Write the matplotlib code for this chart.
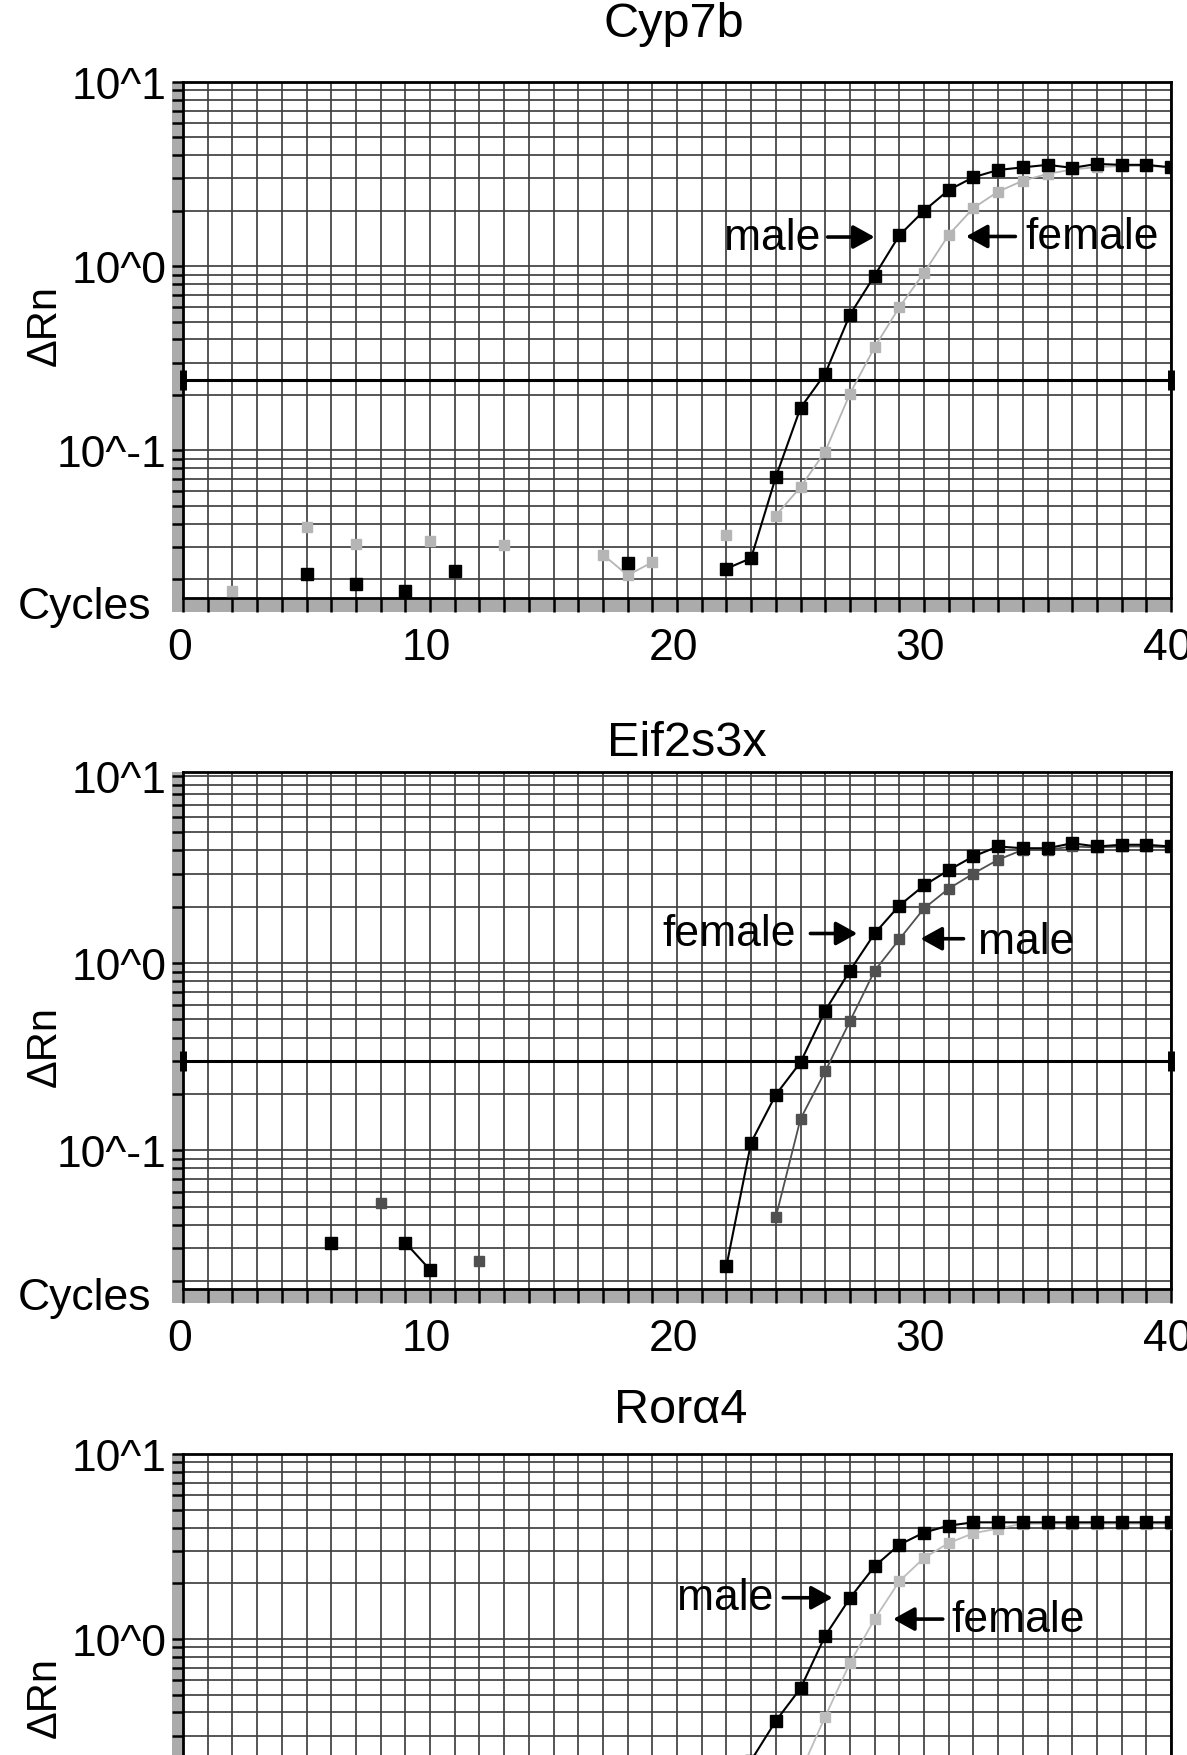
import numpy as np
import matplotlib
matplotlib.use("Agg")
import matplotlib.pyplot as plt
from matplotlib.patches import Rectangle
from matplotlib.transforms import ScaledTranslation

plt.rcParams['font.family'] = ['Liberation Sans', 'DejaVu Sans']

# ---------------- data ----------------
cycles_axis = np.arange(1, 41)
x_tick_values = [0, 10, 20, 30, 40]
x_tick_labels = ["0", "10", "20", "30", "40"]
y_tick_values = [0.1, 1, 10]
y_tick_labels = ["10^-1", "10^0", "10^1"]

# Cyp7b
cyp7b_male_cycles = [5, 7, 9, 11, 18] + list(range(22, 41))
cyp7b_male_values = [0.0214, 0.0188, 0.0172, 0.0221, 0.0244,
                     0.0228, 0.026, 0.0716, 0.170, 0.261, 0.544, 0.889, 1.47, 2.00,
                     2.59, 3.04, 3.33, 3.44, 3.55, 3.42, 3.59, 3.55, 3.55, 3.44]
cyp7b_female_cycles = [2, 5, 7, 10, 13, 17, 18, 19, 22] + list(range(24, 41))
cyp7b_female_values = [0.0172, 0.0384, 0.031, 0.0324, 0.0305, 0.0272, 0.021, 0.0247, 0.0348,
                       0.0443, 0.0632, 0.0986, 0.203, 0.363, 0.599, 0.92, 1.48, 2.07,
                       2.54, 2.91, 3.17, 3.35, 3.45, 3.5, 3.5, 3.45]
cyp7b_threshold = 0.242

# Eif2s3x
eif_female_cycles = [6, 9, 10] + list(range(22, 41))
eif_female_values = [0.0321, 0.0321, 0.0230,
                     0.024, 0.110, 0.198, 0.295, 0.557, 0.91, 1.44, 2.03, 2.60, 3.14,
                     3.72, 4.2, 4.11, 4.11, 4.37, 4.2, 4.29, 4.29, 4.2]
eif_male_cycles = [8, 12] + list(range(24, 41))
eif_male_values = [0.0526, 0.0257,
                   0.0439, 0.147, 0.264, 0.489, 0.91, 1.34, 1.96, 2.50, 3.01, 3.57,
                   4.03, 4.03, 4.2, 4.15, 4.2, 4.2, 4.15]
eif_threshold = 0.30

# Roralpha4
ror_male_cycles = list(range(22, 41))
ror_male_values = [0.13, 0.22, 0.36, 0.54, 1.04, 1.66, 2.47, 3.23, 3.76, 4.10,
                   4.27, 4.27, 4.27, 4.27, 4.27, 4.27, 4.27, 4.27, 4.27]
ror_female_cycles = list(range(24, 41))
ror_female_values = [0.09, 0.19, 0.38, 0.74, 1.28, 2.05, 2.74, 3.30, 3.73, 3.95,
                     4.2, 4.2, 4.2, 4.2, 4.2, 4.2, 4.2]

titles = ["Cyp7b", "Eif2s3x", "Ror\u03b14"]
y_limits = [(0.0158, 10), (0.01815, 10.5), (0.0162, 10)]


def series(cyc, vals):
    y = np.full(len(cycles_axis), np.nan)
    y[np.array(cyc) - 1] = vals
    return y


# ---------------- figure ----------------
W, H = 1187, 1756
fig = plt.figure(figsize=(W / 100, H / 100), dpi=100)


def rect(left, top, right, bottom):
    return [left / W, 1 - bottom / H, (right - left) / W, (bottom - top) / H]


boxes = [(183, 83, 1171, 599), (183, 773, 1171, 1290), (183, 1455, 1171, 1971)]
axes = [fig.add_axes(rect(*b)) for b in boxes]

GRID = '#404040'
BAND = '#ababab'
FS = 32
title_gap = [46, 17, 32]
title_x = [0.497, 0.51, 0.504]
dRn_y_px = [325, 1047, 1698]
shift = ScaledTranslation(-3.5 / 100, 0, fig.dpi_scale_trans)

for i, ax in enumerate(axes):
    l, t, r, b = boxes[i]
    wpx, hpx = r - l, b - t
    visible_bottom = (i < 2)
    ax.set_yscale('log')
    ax.set_xlim(0, 40)
    ax.set_ylim(*y_limits[i])
    ax.set_xticks(x_tick_values, x_tick_labels)
    ax.set_xticks(np.arange(1, 40), minor=True)
    if visible_bottom:
        ax.set_yticks(y_tick_values, y_tick_labels)
    else:
        ax.set_yticks(y_tick_values[1:], y_tick_labels[1:])
    lo, hi = y_limits[i]
    minors = [k * 10.0 ** e for e in (-2, -1, 0) for k in range(2, 10)
              if lo < k * 10.0 ** e < hi]
    if not visible_bottom:
        minors = minors + [0.1]
    ax.set_yticks(minors, minor=True)
    ax.yaxis.set_minor_formatter(plt.NullFormatter())
    ax.grid(True, which='both', color=GRID, lw=1.25)
    ax.set_axisbelow(True)
    ax.tick_params(axis='x', which='both', direction='out', length=10, width=1.8,
                   color='k', labelsize=FS, pad=11, labelbottom=visible_bottom)
    ax.tick_params(axis='y', which='both', direction='out', length=8, width=1.8,
                   color='k', labelsize=FS, pad=4)
    for lab in ax.get_xticklabels():
        lab.set_transform(lab.get_transform() + shift)
    for s in ax.spines.values():
        s.set_linewidth(2.0)
        s.set_color('k')
    # grey tick bands
    bw = 11 / wpx
    bh = 14 / hpx
    ax.add_patch(Rectangle((-bw, -bh), bw, 1 + bh, transform=ax.transAxes,
                           color=BAND, clip_on=False, zorder=0.5, lw=0))
    ax.add_patch(Rectangle((0, -bh), 1, bh, transform=ax.transAxes,
                           color=BAND, clip_on=False, zorder=0.5, lw=0))
    # titles, labels
    ax.text(title_x[i], 1 + title_gap[i] / hpx, titles[i], transform=ax.transAxes,
            ha='center', va='baseline', fontsize=35)
    ax.text((45 - l) / wpx, (b - dRn_y_px[i]) / hpx, "\u0394Rn", transform=ax.transAxes,
            rotation=90, ha='center', va='center', fontsize=30)
    if visible_bottom:
        ax.text((151 - l) / wpx, -9 / hpx, "Cycles", transform=ax.transAxes,
                ha='right', va='center', fontsize=FS)


def arrow(ax, tail, tip, y):
    ax.annotate('', xy=(tip, y), xytext=(tail, y),
                arrowprops=dict(arrowstyle='-|>,head_length=0.65,head_width=0.36',
                                lw=2.6, color='k', mutation_scale=20,
                                shrinkA=0, shrinkB=0), zorder=6)


def label(ax, x, y, s, ha):
    ax.text(x, y, s, ha=ha, va='center', fontsize=FS, zorder=6)


# Panel 1: Cyp7b
ax = axes[0]
ax.plot([0, 40], [cyp7b_threshold] * 2, color='k', lw=2.2, zorder=3,
        marker='|', ms=15, mew=5, clip_on=False)
ax.plot(cycles_axis, series(cyp7b_female_cycles, cyp7b_female_values), '-s',
        color='#b5b5b5', lw=1.3, ms=7, zorder=4)
ax.plot(cycles_axis, series(cyp7b_male_cycles, cyp7b_male_values), '-s',
        color='k', lw=1.5, ms=8.5, zorder=5)
label(ax, 25.8, 1.44, "male", 'right')
arrow(ax, 26.1, 28.0, 1.44)
arrow(ax, 33.7, 31.7, 1.45)
label(ax, 34.1, 1.45, "female", 'left')

# Panel 2: Eif2s3x
ax = axes[1]
ax.plot([0, 40], [eif_threshold] * 2, color='k', lw=2.2, zorder=3,
        marker='|', ms=15, mew=5, clip_on=False)
ax.plot(cycles_axis, series(eif_male_cycles, eif_male_values), '-s',
        color='#505050', lw=1.3, ms=7.5, zorder=4)
ax.plot(cycles_axis, series(eif_female_cycles, eif_female_values), '-s',
        color='k', lw=1.5, ms=8.5, zorder=5)
label(ax, 24.8, 1.44, "female", 'right')
arrow(ax, 25.4, 27.3, 1.44)
arrow(ax, 31.6, 29.86, 1.35)
label(ax, 32.2, 1.3, "male", 'left')

# Panel 3: Roralpha4
ax = axes[2]
ax.plot(cycles_axis, series(ror_female_cycles, ror_female_values), '-s',
        color='#bdbdbd', lw=1.3, ms=7, zorder=4)
ax.plot(cycles_axis, series(ror_male_cycles, ror_male_values), '-s',
        color='k', lw=1.5, ms=8.5, zorder=5)
label(ax, 23.9, 1.67, "male", 'right')
arrow(ax, 24.3, 26.3, 1.67)
arrow(ax, 30.76, 28.75, 1.28)
label(ax, 31.1, 1.28, "female", 'left')

fig.savefig("out.png", dpi=100)
